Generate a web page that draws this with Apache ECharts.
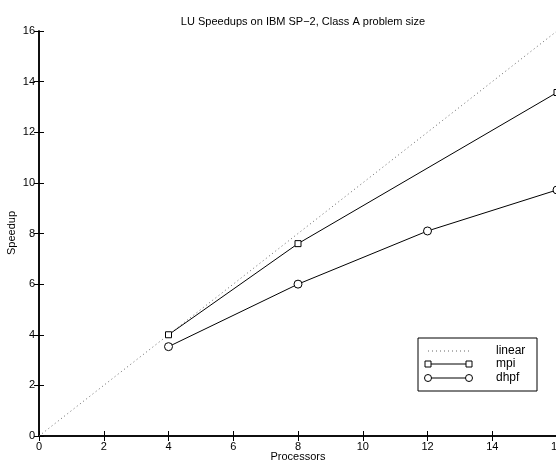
<!DOCTYPE html>
<html><head><meta charset="utf-8">
<script src="https://cdn.jsdelivr.net/npm/echarts@6/dist/echarts.min.js"></script>
<style>html,body{margin:0;padding:0;background:#fff}#c{width:556px;height:466px}</style>
</head><body><div id="c"></div>
<script>
const titleText = 'LU Speedups on IBM SP\u22122, Class A problem size';
const xName = 'Processors';
const yName = 'Speedup';
const xTicks = [0,2,4,6,8,10,12,14,16];
const linearX = [0,16];
const linearY = [0,16];
const mpiX = [4,8,16];
const mpiY = [4.0,7.6,13.57];
const dhpfX = [4,8,12,16];
const dhpfY = [3.53,6.0,8.1,9.72];
const seriesNames = ['linear','mpi','dhpf'];

const pair = (xs, ys) => xs.map((x,i)=>[x,ys[i]]);
const font = 'Liberation Sans, Arial, Helvetica, sans-serif';
const chart = echarts.init(document.getElementById('c'));
const gl = {left:39, top:31, width:518, height:405, containLabel:false, outerBoundsMode:'none'};
const axisCommon = {
  min:0, max:16, interval:2,
  axisLine:{show:true,lineStyle:{color:'#000',width:1.5}},
  axisTick:{show:true,inside:true,length:5,lineStyle:{color:'#000',width:1}},
  splitLine:{show:false},
};
// legend geometry
const lgX=418, lgY=338, lgW=119, lgH=53;
const rows=[351,364,378];
const graphics=[
  {type:'rect',shape:{x:lgX,y:lgY,width:lgW,height:lgH},style:{fill:'#fff',stroke:'#000',lineWidth:1},z:100},
  {type:'text',x:298,y:457,style:{text:xName,font:'11px '+font,fill:'#000',align:'center',verticalAlign:'middle'},z:101},
  {type:'text',x:12,y:233,rotation:Math.PI/2,style:{text:yName,font:'11px '+font,fill:'#000',align:'center',verticalAlign:'middle'},z:101}
];
rows.forEach((y,i)=>{
  graphics.push({type:'line',shape:{x1:428,y1:y,x2:469,y2:y},style:{stroke:i===0?'#666':'#000',lineWidth:1,lineDash:i===0?[1,3]:null},z:101});
  if(i===1){
    [428,469].forEach(x=>graphics.push({type:'rect',shape:{x:x-3,y:y-3,width:6,height:6},style:{fill:'#fff',stroke:'#000',lineWidth:1},z:102}));
  }
  if(i===2){
    [428,469].forEach(x=>graphics.push({type:'circle',shape:{cx:x,cy:y,r:3.5},style:{fill:'#fff',stroke:'#000',lineWidth:1},z:102}));
  }
  graphics.push({type:'text',style:{text:seriesNames[i],x:496,y:y,font:'12px '+font,fill:'#000',textVerticalAlign:'middle'},z:101});
});

chart.setOption({
  animation:false,
  title:{text:titleText,left:298,top:11,textAlign:'center',textStyle:{fontFamily:font,fontSize:11,fontWeight:'normal',color:'#000'}},
  grid:gl,
  xAxis:[
    Object.assign({type:'value',position:'bottom',
      axisLabel:{fontFamily:font,fontSize:11,color:'#000',margin:5,formatter:v=>xTicks.includes(v)?String(v):''}},axisCommon),
    Object.assign({type:'value',position:'top',axisLabel:{show:false}},axisCommon)
  ],
  yAxis:[
    Object.assign({type:'value',position:'left',
      axisLabel:{fontFamily:font,fontSize:11,color:'#000',margin:4}},axisCommon),
    Object.assign({type:'value',position:'right',axisLabel:{show:false}},axisCommon)
  ],
  series:[
    {name:seriesNames[0],type:'line',data:pair(linearX,linearY),showSymbol:false,symbol:'none',
      lineStyle:{color:'#666',width:1,type:[1,3]}},
    {name:seriesNames[1],type:'line',data:pair(mpiX,mpiY),symbol:'rect',symbolSize:6,
      lineStyle:{color:'#000',width:1},itemStyle:{color:'#fff',borderColor:'#000',borderWidth:1}},
    {name:seriesNames[2],type:'line',data:pair(dhpfX,dhpfY),symbol:'circle',symbolSize:8,
      lineStyle:{color:'#000',width:1},itemStyle:{color:'#fff',borderColor:'#000',borderWidth:1}}
  ],
  graphic:graphics
});
</script></body></html>
